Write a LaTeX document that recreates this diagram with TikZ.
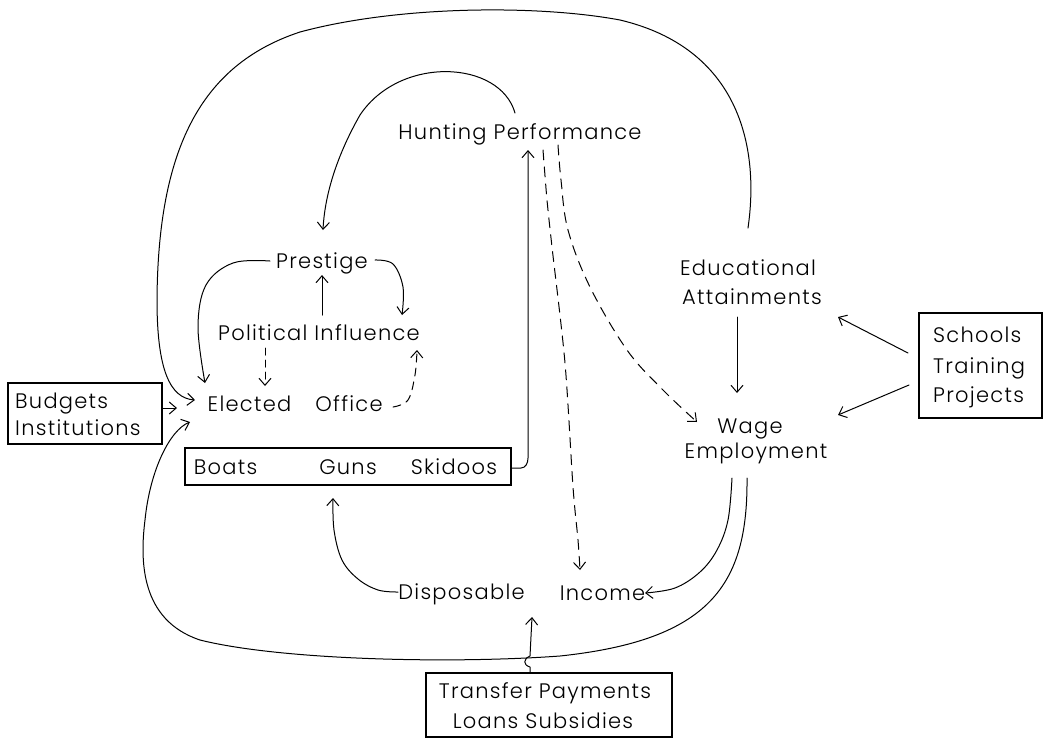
\documentclass[tikz,border=0pt]{standalone}
\usepackage{fontspec}
\setmainfont{Poppins}[UprightFont={* Light}, LetterSpace=6]
\usetikzlibrary{arrows.meta}
\begin{document}
\begin{tikzpicture}[x=1pt,y=-1pt,
  lbl/.style={inner sep=0pt, font=\fontsize{21}{27}\selectfont},
  frame/.style={draw, line width=1.1pt, inner sep=0pt},
  wire/.style={line width=1pt, line cap=round, line join=round},
  link/.style={wire, -{Straight Barb[length=7pt,width=12pt,line width=1pt]}},
  dlink/.style={link, dash pattern=on 10pt off 7pt}]
\useasboundingbox (0,0) rectangle (1044,740);

% ---- labels ----
\node[lbl, anchor=base] (hunt)   at (520,139)   {Hunting Performance};
\node[lbl, anchor=base] (prest)  at (322,268)   {Prestige};
\node[lbl, anchor=base] (pol)    at (319,340)   {Political Influence};
\node[lbl, anchor=base] (elect)  at (249.5,411) {Elected};
\node[lbl, anchor=base] (office) at (349,411)   {Office};
\node[lbl, anchor=base] (edu1)   at (748,275)   {Educational};
\node[lbl, anchor=base] (edu2)   at (752,304)   {Attainments};
\node[lbl, anchor=base] (wage1)  at (750,433)   {Wage};
\node[lbl, anchor=base] (wage2)  at (756,458)   {Employment};
\node[lbl, anchor=base] (disp)   at (461.5,599) {Disposable};
\node[lbl, anchor=base] (inc)    at (602.5,600) {Income};

% ---- boxed inputs ----
\node[frame, minimum width=154pt, minimum height=61pt] (budbox) at (85,413.5) {};
\node[lbl, anchor=base west] (bud1) at (15,408) {Budgets};
\node[lbl, anchor=base west] (bud2) at (15,435) {Institutions};

\node[frame, minimum width=123pt, minimum height=105pt] (schbox) at (980.5,365.5) {};
\node[lbl, anchor=base west] (sch1) at (933,342) {Schools};
\node[lbl, anchor=base west] (sch2) at (933,373) {Training};
\node[lbl, anchor=base west] (sch3) at (933,402) {Projects};

\node[frame, minimum width=326pt, minimum height=37pt] (gear) at (348,466.5) {};
\node[lbl, anchor=base] (boats) at (225.5,474) {Boats};
\node[lbl, anchor=base] (guns)  at (348,474)   {Guns};
\node[lbl, anchor=base] (ski)   at (454,474)   {Skidoos};

\node[frame, minimum width=246pt, minimum height=64pt] (trbox) at (549,705) {};
\node[lbl, anchor=base] (tr1) at (545,698) {Transfer Payments};
\node[lbl, anchor=base] (tr2) at (543,728) {Loans Subsidies};

% ---- connector end points ----
\coordinate (eduTop)   at (748,228);
\coordinate (electIn)  at (195,400);
\coordinate (electIn2) at (190,422);
\coordinate (huntArc)  at (515,113);
\coordinate (prestIn)  at (323,230);
\coordinate (huntIn)   at (528,150);
\coordinate (gearOut)  at (511,468);
\coordinate (dashA)    at (543,150);
\coordinate (dashB)    at (558,145);
\coordinate (incIn)    at (580,570);
\coordinate (wageIn)   at (697,422);
\coordinate (wageOutA) at (732,478);
\coordinate (wageOutB) at (747,478);
\coordinate (incIn2)   at (645,593);
\coordinate (gunsIn)   at (333,498);
\coordinate (dispOut)  at (398,592);
\coordinate (trOut)    at (530,673);
\coordinate (dispIn)   at (532,617);

% ---- outer loop: educational attainments back to elected office ----
\draw[link] (eduTop) .. controls (760,145) and (738,48) .. (620,20)
  .. controls (540,5) and (400,5) .. (300,32)
  .. controls (200,65) and (158,150) .. (157,300)
  .. controls (157,370) and (170,398) .. (electIn);

% ---- hunting performance -> prestige ----
\draw[link] (huntArc) .. controls (500,60) and (400,55) .. (360,115)
  .. controls (340,150) and (325,190) .. (prestIn);

% ---- boats guns skidoos -> hunting performance ----
\draw[link] (gearOut) -- (521,468) to[out=0,in=-90] (528,458) -- (huntIn);

% ---- dashed influences of hunting performance ----
\draw[dlink] plot[smooth, tension=0.5] coordinates {(dashA) (547,200) (552,247) (565,363) (573,487) (578,540) (incIn)};
\draw[dlink] plot[smooth, tension=0.6] coordinates {(dashB) (561,180) (568,230) (590,287) (627,350) (663,390) (wageIn)};

% ---- educational attainments -> wage employment ----
\draw[link] (737,317) -- (737,393);
\draw[link] (908,353) -- (838,317);
\draw[link] (909,385) -- (838,415);

% ---- wage employment -> income ----
\draw[link] plot[smooth, tension=0.6] coordinates {(wageOutA) (728,520) (717,550) (700,572) (675,588) (incIn2)};

% ---- lower loop: wage employment back to elected office ----
\draw[link] (wageOutB) .. controls (748,585) and (710,640) .. (560,656)
  .. controls (450,664) and (280,660) .. (200,640)
  .. controls (140,620) and (140,560) .. (145,520)
  .. controls (150,470) and (170,430) .. (electIn2);

% ---- transfer payments -> disposable income ----
\draw[link] (trOut) -- (530,667) .. controls (523,665) and (523,659) .. (530,656) -- (dispIn);

% ---- disposable income -> guns ----
\draw[link] plot[smooth, tension=0.6] coordinates {(dispOut) (378,590) (358,579) (342,560) (334,530) (gunsIn)};

% ---- prestige / political influence / elected office ----
\draw[link] (322,315) -- (322,275);
\draw[link] plot[smooth, tension=0.6] coordinates {(270,261) (233,263) (206,285) (198,327) (205,383)};
\draw[link] plot[smooth, tension=0.6] coordinates {(375,260) (393,264) (403,287) (402,315)};
\draw[dlink, dash pattern=on 7pt off 5pt] (265,348) -- (265,386);
\draw[dlink, dash pattern=on 8pt off 6pt] plot[smooth, tension=0.6] coordinates {(393,407) (408,400) (415,375) (417,350)};

% ---- budgets -> elected office ----
\draw[link] (162,408) -- (177,408);
\end{tikzpicture}
\end{document}
